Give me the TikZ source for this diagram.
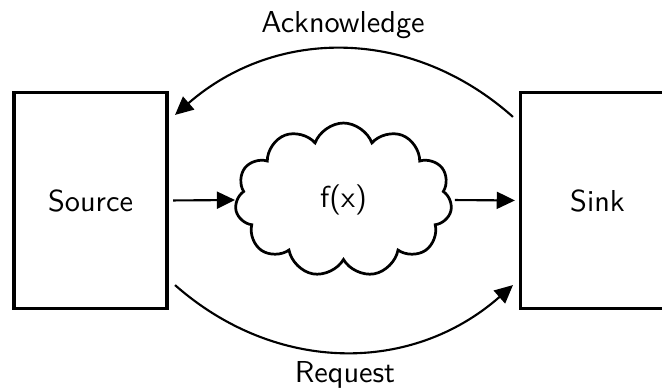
\documentclass[tikz,border=0pt]{standalone}
\usetikzlibrary{shapes.symbols,arrows.meta,calc}
\begin{document}
\begin{tikzpicture}[x=0.33pt,y=-0.33pt,
  font=\sffamily\fontsize{10}{12}\selectfont,
  block/.style={draw,line width=1pt,minimum width=50.5pt,minimum height=71pt,outer sep=0pt,inner sep=0pt},
  puff/.style={draw,cloud,cloud puffs=11,cloud puff arc=140,cloud ignores aspect,
    line width=0.9pt,minimum width=71.6pt,minimum height=50.8pt,outer sep=0pt,inner sep=0pt},
  arr/.style={line width=0.7pt,-{Triangle[length=6pt,width=5.6pt]}},
  tag/.style={anchor=base,inner sep=0pt}]
  \useasboundingbox (0,0) rectangle (662,391);
  \begin{scope}
    \clip (0,0) rectangle (662,391);
    % process blocks
    \node[block] (source) at (90.5,200.5) {Source};
    \node[block] (sink) at (597.5,200.5) {Sink};
    \node[puff] (fx) at (343.5,200) {f(x)};
  \end{scope}
  % data path
  \draw[arr,shorten <=2pt,shorten >=0.6pt] (source.east) -- (fx.west);
  \draw[arr,shorten <=1.6pt,shorten >=2pt] (fx.east) -- (sink.west);
  % handshake
  \draw[arr] ($(sink.north west)+(-8,24)$) .. controls +(-101,-90) and +(101,-88) .. ($(source.north east)+(8,22)$);
  \draw[arr] ($(source.south east)+(8,-23)$) .. controls +(101,89) and +(-101,89) .. ($(sink.south west)+(-8,-23)$);
  \node[tag] (ack) at (343,32) {Acknowledge};
  \node[tag] (req) at (345,383) {Request};
\end{tikzpicture}
\end{document}
